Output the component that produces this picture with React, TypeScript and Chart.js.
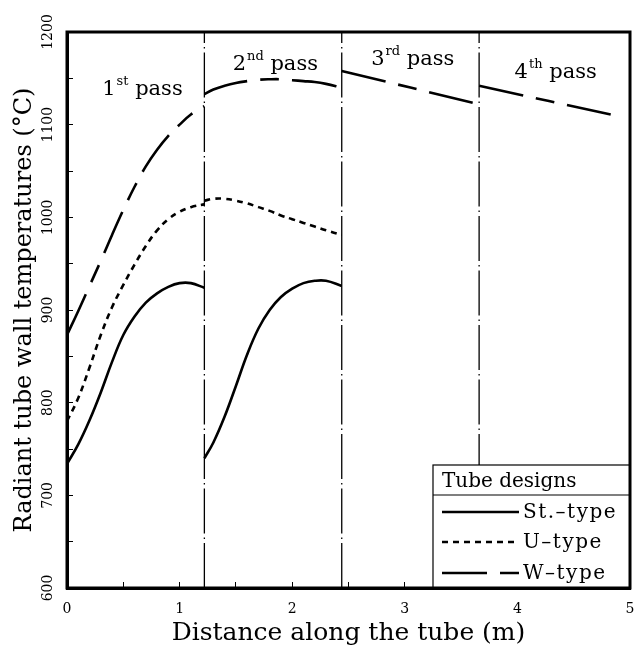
import React, { useEffect, useRef } from 'react';
import { Chart, registerables } from 'chart.js';

Chart.register(...registerables);

// ---- data ----
const pass1X = [0, 0.1, 0.2, 0.3, 0.4, 0.5, 0.6, 0.7, 0.8, 0.9, 1.0, 1.1, 1.22];
const stPass1 = [734, 755, 781, 811, 844, 873, 893, 908, 918, 925, 929, 929, 924];
const uPass1 = [780, 805, 838, 873, 903, 927, 949, 969, 986, 998, 1006, 1011, 1014];
const wPass1 = [873, 899, 926, 953, 981, 1008, 1033, 1055, 1073, 1088, 1100, 1111, 1120];

const pass2X = [1.22, 1.3, 1.4, 1.5, 1.6, 1.7, 1.8, 1.9, 2.0, 2.1, 2.2, 2.3, 2.44];
const stPass2 = [740, 757, 785, 818, 852, 880, 900, 914, 923, 929, 931.5, 931.5, 926];
const uPass2 = [1018, 1020, 1020, 1018, 1015, 1011, 1007, 1002, 998, 994, 990, 986, 981];
const wPass2 = [1133, 1138, 1142, 1145, 1147, 1148.5, 1149, 1149, 1148, 1147, 1146, 1144, 1140];

const pass3X = [2.44, 3.66];
const wPass3 = [1158, 1122];

const pass4X = [3.66, 4.9];
const wPass4 = [1142, 1109];

const dividerX = [1.22, 2.44, 3.66];

const passOrdinals = ['1', '2', '3', '4'];
const passSuffixes = ['st', 'nd', 'rd', 'th'];
const passLabelX = [0.67, 1.85, 3.07, 4.34];
const passLabelY = [1132, 1159, 1164, 1150];

const legendTitle = 'Tube designs';
const legendLabels = ['St.\u2013type', 'U\u2013type', 'W\u2013type'];

const xTitle = 'Distance along the tube (m)';
const yTitle = 'Radiant tube wall temperatures (\u00B0C)';

const X_MIN = 0, X_MAX = 5, Y_MIN = 600, Y_MAX = 1200;

// ---- styles ----
const FONT = "'DejaVu Serif', 'Liberation Serif', serif";
const ST_DASH: number[] = [];
const U_DASH = [6, 5];
const W_DASH = [45, 13, 19, 13];
const DIV_DASH = [45, 4, 1.5, 4];
const LINE_W = 2.6;

const zip = (xs: number[], ys: number[]) => xs.map((x, i) => ({ x, y: ys[i] }));

const curve = (xs: number[], ys: number[], dash: number[]) => ({
  data: zip(xs, ys),
  borderColor: '#000',
  borderWidth: LINE_W,
  borderDash: dash,
  pointRadius: 0,
  tension: 0.4,
  fill: false,
});

const divider = (x: number) => ({
  data: [{ x, y: Y_MIN }, { x, y: Y_MAX }],
  borderColor: '#000',
  borderWidth: 1.3,
  borderDash: DIV_DASH,
  pointRadius: 0,
  fill: false,
});

const overlayPlugin = {
  id: 'overlay',
  afterDatasetsDraw(chart: any) {
    const { ctx, chartArea: ca, scales } = chart;
    const xs = scales.x, ys = scales.y;
    ctx.save();
    ctx.fillStyle = '#000';
    ctx.strokeStyle = '#000';
    ctx.textAlign = 'left';
    ctx.textBaseline = 'alphabetic';

    // pass labels
    passOrdinals.forEach((ord, i) => {
      const big = `21px ${FONT}`;
      const small = `13px ${FONT}`;
      ctx.font = big;
      const w1 = ctx.measureText(ord).width;
      const w3 = ctx.measureText(' pass').width;
      ctx.font = small;
      const w2 = ctx.measureText(passSuffixes[i]).width + 1;
      const total = w1 + w2 + w3;
      let px = xs.getPixelForValue(passLabelX[i]) - total / 2;
      const py = ys.getPixelForValue(passLabelY[i]);
      ctx.font = big;
      ctx.fillText(ord, px, py);
      px += w1;
      ctx.font = small;
      ctx.fillText(passSuffixes[i], px + 1, py - 10);
      px += w2;
      ctx.font = big;
      ctx.fillText(' pass', px, py);
    });

    // legend box
    const lx = ca.right - 197;
    const ly = ca.bottom - 123;
    const lw = ca.right - lx;
    const lh = ca.bottom - ly;
    ctx.fillStyle = '#fff';
    ctx.fillRect(lx, ly, lw, lh);
    ctx.lineWidth = 1.2;
    ctx.setLineDash([]);
    ctx.strokeRect(lx, ly, lw, lh);
    ctx.fillStyle = '#000';
    ctx.font = `20px ${FONT}`;
    ctx.fillText(legendTitle, lx + 9, ly + 22);
    ctx.beginPath();
    ctx.moveTo(lx, ly + 30);
    ctx.lineTo(ca.right, ly + 30);
    ctx.stroke();

    const dashes = [ST_DASH, U_DASH, W_DASH];
    const rowY = [47, 77, 108];
    legendLabels.forEach((lab, i) => {
      const cy = ly + rowY[i];
      ctx.lineWidth = LINE_W;
      ctx.setLineDash(dashes[i]);
      ctx.beginPath();
      ctx.moveTo(lx + 9, cy);
      ctx.lineTo(lx + 86, cy);
      ctx.stroke();
      ctx.setLineDash([]);
      ctx.font = `20px ${FONT}`;
      ctx.textBaseline = 'middle';
      (ctx as any).letterSpacing = '1.5px';
      ctx.fillText(lab, lx + 90, cy + 1);
      (ctx as any).letterSpacing = '0px';
      ctx.textBaseline = 'alphabetic';
    });

    // frame
    ctx.lineWidth = 3;
    ctx.setLineDash([]);
    ctx.strokeRect(ca.left, ca.top, ca.right - ca.left, ca.bottom - ca.top);
    ctx.restore();
  },
};

export default function App() {
  const ref = useRef<HTMLCanvasElement>(null);
  useEffect(() => {
    document.body.style.margin = '0';
    const canvas = ref.current;
    if (!canvas) return;
    const chart = new Chart(canvas, {
      type: 'line',
      data: {
        datasets: [
          curve(pass1X, stPass1, ST_DASH),
          curve(pass1X, uPass1, U_DASH),
          curve(pass1X, wPass1, W_DASH),
          curve(pass2X, stPass2, ST_DASH),
          curve(pass2X, uPass2, U_DASH),
          curve(pass2X, wPass2, W_DASH),
          curve(pass3X, wPass3, W_DASH),
          curve(pass4X, wPass4, W_DASH),
          ...dividerX.map(divider),
        ] as any,
      },
      options: {
        animation: false,
        responsive: false,
        maintainAspectRatio: false,
        layout: { padding: { top: 32, right: 7, left: 0, bottom: 0 } },
        plugins: {
          legend: { display: false },
          tooltip: { enabled: false },
        },
        scales: {
          x: {
            type: 'linear',
            min: X_MIN,
            max: X_MAX,
            ticks: {
              stepSize: 0.5,
              autoSkip: false,
              maxRotation: 0,
              padding: 19,
              color: '#000',
              font: { family: FONT, size: 14 },
              callback: (v: any) => (Number(v) % 1 === 0 ? String(v) : ''),
            },
            grid: { drawOnChartArea: false, drawTicks: true, tickLength: -6, tickColor: '#000', tickWidth: 1 },
            border: { display: true, color: '#000', width: 3 },
            title: {
              display: true,
              text: xTitle,
              color: '#000',
              font: { family: FONT, size: 25 },
              padding: { top: 0, bottom: 0 },
            },
            afterFit: (s: any) => {
              s.height = 60;
              s.paddingLeft = 0;
              s.paddingRight = 4;
            },
          },
          y: {
            type: 'linear',
            min: Y_MIN,
            max: Y_MAX,
            ticks: {
              stepSize: 50,
              autoSkip: false,
              minRotation: 90,
              maxRotation: 90,
              crossAlign: 'center',
              padding: 7,
              color: '#000',
              font: { family: FONT, size: 14 },
              callback: (v: any) => (Number(v) % 100 === 0 ? String(v) : ''),
            },
            grid: { drawOnChartArea: false, drawTicks: true, tickLength: -6, tickColor: '#000', tickWidth: 1 },
            border: { display: true, color: '#000', width: 3 },
            title: {
              display: true,
              text: yTitle,
              color: '#000',
              font: { family: FONT, size: 24 },
              padding: { top: 10, bottom: 0 },
            },
            afterFit: (s: any) => { s.width = 67; },
          },
        },
      } as any,
      plugins: [overlayPlugin],
    });
    return () => chart.destroy();
  }, []);
  return (
    <div style={{ width: 637, height: 648 }}>
      <canvas ref={ref} width={637} height={648} style={{ display: 'block', width: 637, height: 648 }} />
    </div>
  );
}
